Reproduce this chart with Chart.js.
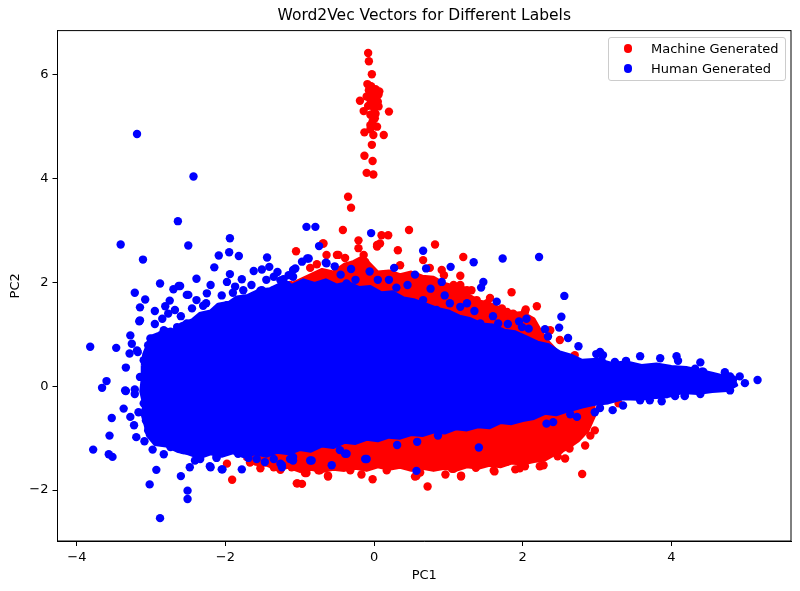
<!DOCTYPE html>
<html>
<head>
<meta charset="utf-8">
<script src="https://cdn.jsdelivr.net/npm/chart.js@4.4.1/dist/chart.umd.min.js"></script>
<style>
  body { margin: 0; background: #fff; }
  #wrap { position: relative; width: 800px; height: 591px; }
  #legend {
    position: absolute; box-sizing: border-box; width: 178px;
    border: 1px solid #cccccc; border-radius: 3px; background: rgba(255,255,255,0.8);
    font: 13px 'DejaVu Sans', sans-serif; color: #000; padding: 1px 0;
  }
  #legend .row { display: flex; align-items: center; height: 20px; white-space: nowrap; }
  #legend .dot { width: 8.4px; height: 8.4px; border-radius: 50%; margin: 0 18.8px 0 14.8px; }
</style>
</head>
<body>
<div id="wrap">
  <canvas id="myChart"></canvas>
  <div id="legend"></div>
</div>
<script>
const xTicks = [-4, -2, 0, 2, 4];
const yTicks = [-2, 0, 2, 4, 6];
const seriesLabels = ['Machine Generated', 'Human Generated'];

// outline of the solid, overplotted part of each cloud
const machineCore = [[-1.26,1.70],[-1.15,1.95],[-1.00,2.05],[-0.85,2.15],[-0.70,2.25],[-0.55,2.20],[-0.40,2.35],[-0.28,2.40],[-0.15,2.50],[-0.05,2.35],[0.05,2.20],[0.20,2.22],[0.35,2.15],[0.50,2.20],[0.65,2.12],[0.80,2.10],[0.95,1.98],[1.10,1.92],[1.25,1.78],[1.40,1.65],[1.55,1.60],[1.70,1.50],[1.85,1.40],[2.00,1.42],[2.15,1.30],[2.25,1.05],[2.35,0.85],[2.50,0.62],[2.70,0.30],[2.85,0.00],[2.95,-0.25],[2.97,-0.56],[2.88,-0.85],[2.75,-1.05],[2.60,-1.20],[2.45,-1.30],[2.30,-1.42],[2.15,-1.45],[2.00,-1.50],[1.85,-1.48],[1.70,-1.55],[1.55,-1.52],[1.40,-1.58],[1.25,-1.55],[1.10,-1.62],[0.95,-1.58],[0.80,-1.62],[0.65,-1.58],[0.50,-1.62],[0.35,-1.56],[0.20,-1.60],[0.05,-1.55],[-0.10,-1.62],[-0.25,-1.58],[-0.40,-1.62],[-0.55,-1.60],[-0.70,-1.64],[-0.85,-1.60],[-1.00,-1.64],[-1.15,-1.56],[-1.30,-1.60],[-1.45,-1.52],[-1.60,-1.50],[-1.74,-1.40],[-1.67,-0.66],[-1.40,0.69]];
const humanCore = [[-3.12,0.40],[-3.10,0.62],[-3.05,0.80],[-3.02,0.95],[-2.90,1.02],[-2.80,1.10],[-2.70,1.08],[-2.60,1.20],[-2.45,1.28],[-2.35,1.40],[-2.20,1.45],[-2.10,1.58],[-1.95,1.62],[-1.85,1.72],[-1.70,1.75],[-1.55,1.85],[-1.40,1.88],[-1.25,1.98],[-1.10,1.95],[-0.95,2.05],[-0.80,1.98],[-0.65,2.05],[-0.50,1.95],[-0.35,2.00],[-0.20,1.90],[-0.05,1.92],[0.10,1.80],[0.25,1.82],[0.40,1.70],[0.55,1.66],[0.70,1.58],[0.85,1.50],[1.00,1.45],[1.15,1.35],[1.30,1.30],[1.45,1.20],[1.60,1.18],[1.75,1.08],[1.90,1.05],[2.05,0.95],[2.20,0.85],[2.35,0.80],[2.50,0.66],[2.65,0.60],[2.80,0.50],[3.00,0.52],[3.20,0.44],[3.40,0.47],[3.60,0.40],[3.80,0.43],[4.00,0.38],[4.20,0.36],[4.40,0.30],[4.55,0.25],[4.70,0.20],[4.85,0.10],[4.88,0.02],[4.75,-0.08],[4.55,-0.10],[4.35,-0.14],[4.15,-0.12],[3.95,-0.20],[3.75,-0.22],[3.55,-0.25],[3.35,-0.24],[3.15,-0.32],[2.95,-0.35],[2.80,-0.40],[2.60,-0.48],[2.45,-0.55],[2.30,-0.52],[2.15,-0.62],[2.00,-0.66],[1.85,-0.72],[1.70,-0.70],[1.55,-0.80],[1.40,-0.78],[1.25,-0.84],[1.10,-0.82],[0.95,-0.90],[0.80,-0.88],[0.65,-0.95],[0.50,-0.93],[0.35,-1.00],[0.20,-0.98],[0.05,-1.05],[-0.10,-1.02],[-0.25,-1.10],[-0.40,-1.08],[-0.55,-1.18],[-0.70,-1.15],[-0.85,-1.25],[-1.00,-1.22],[-1.15,-1.30],[-1.30,-1.27],[-1.45,-1.35],[-1.60,-1.30],[-1.75,-1.36],[-1.90,-1.28],[-2.05,-1.35],[-2.20,-1.30],[-2.35,-1.38],[-2.50,-1.30],[-2.65,-1.25],[-2.80,-1.15],[-2.95,-1.12],[-3.05,-0.95],[-3.08,-0.75],[-3.12,-0.55],[-3.10,-0.35],[-3.14,-0.10],[-3.12,0.15]];

// single points
const machinePoints = [
  [-0.08,6.42],[-0.07,6.26],[-0.03,6.01],[-0.09,5.82],[-0.01,5.65],[0.07,5.68],[-0.19,5.50],[-0.05,5.52],[0.01,5.45],[0.06,5.39],[-0.14,5.30],[0.20,5.29],[-0.05,5.23],[0.01,5.16],[-0.05,5.03],[-0.13,4.89],[-0.01,4.84],[0.13,4.84],[-0.03,4.65],[-0.13,4.44],[-0.02,4.34],[-0.10,4.11],[-0.01,4.08],[-0.35,3.65],[-0.31,3.44],
  [-0.03,5.60],[0.03,5.55],[-0.08,5.40],[0.00,5.35],[0.05,5.48],[-0.10,5.58],[0.02,5.25],[-0.02,5.10],[0.06,5.62],[-0.05,4.95],[0.04,5.00],[-0.07,5.70],[-0.04,5.78],[0.02,5.72],
  [-0.42,3.01],[0.10,2.91],[0.19,2.91],[-0.21,2.81],[0.04,2.72],[0.32,2.62],[-1.05,2.60],[-0.69,2.75],[-0.48,2.53],[-0.64,2.53],[0.47,3.01],[0.82,2.73],[1.20,2.49],[1.16,2.13],[1.85,1.81],[0.66,2.43],[1.20,1.85],[1.31,1.85],[0.08,2.75],[0.91,2.24],[0.94,2.14],[0.31,2.08],[0.57,2.11],[0.71,2.04],[1.07,1.95],[1.38,1.66],[1.52,1.60],[1.70,1.47],[1.83,1.34],[1.25,1.85],[-0.14,2.53],[-0.12,2.40],[-0.21,2.66],[-0.77,2.35],[0.04,2.69],[-0.68,2.75],[-0.50,2.53],
  [2.19,1.54],[2.04,1.48],[1.87,1.40],[1.72,1.50],[1.79,1.43],[2.12,1.18],[2.17,0.98],[2.50,0.89],[2.28,0.79],
  [-1.98,-1.49],[-1.91,-1.80],[-1.04,-1.87],[-0.97,-1.88],[-1.29,-1.56],[-1.13,-1.52],[-0.93,-1.67],[-0.73,-1.62],[-0.62,-1.72],[-0.17,-1.70],[-0.02,-1.79],[0.19,-1.52],[-1.35,-1.56],[-1.26,-1.61],[-1.11,-1.56],[-1.03,-1.87],[-0.91,-1.67],[-0.75,-1.62],[-0.62,-1.74],[0.17,-1.62],[0.55,-1.74],[0.72,-1.93],[1.17,-1.74],[1.37,-1.57],[1.61,-1.62],[1.07,-1.59],[-0.73,-1.49],[-0.46,-1.49],[1.17,-1.72],[1.62,-1.64],[1.90,-1.60],[2.03,-1.54],[2.28,-1.52],[2.80,-1.69],[2.63,-1.20],[2.47,-1.35],[2.91,-0.95],[0.57,-1.73],[1.05,-1.59],[1.79,-1.45],[2.50,-1.23],[3.29,-0.33],
  [-1.67,-1.47],[-1.53,-1.58],[-0.32,-1.62],[0.62,-1.66],[0.96,-1.70],[1.96,-1.58],[2.23,-1.54],[2.57,-1.39],[2.84,-1.14],[2.97,-0.85],[3.04,-0.27],[2.97,0.21],
  [-1.13,1.95],[-0.86,2.28],[-0.39,2.47],[0.35,2.33],[0.75,2.28],[1.16,1.95],[1.56,1.70],[2.03,1.43],[2.37,1.08],[2.70,0.60]
];
const humanPoints = [
  [-3.19,4.86],[-2.43,4.04],[-2.64,3.18],[-3.41,2.73],[-2.50,2.71],[-3.11,2.44],[-1.94,2.85],[-1.95,2.58],[-1.82,2.51],[-2.09,2.52],[-2.15,2.29],[-0.91,3.07],[-0.79,3.07],[-0.74,2.70],[-0.04,2.95],[-2.88,1.98],[-2.70,1.87],[-2.63,1.93],[-2.39,2.07],[-1.94,2.16],[-1.44,2.48],[-3.22,1.80],[-2.50,1.76],[-2.25,1.79],[-1.62,2.22],[-1.41,2.30],[-0.64,2.37],
  [0.66,2.61],[1.34,2.39],[1.73,2.46],[2.22,2.49],[1.03,2.30],[2.56,1.74],[1.47,2.01],[1.44,1.90],[0.70,2.27],[1.65,1.63],[0.27,2.28],[-0.06,2.21],[-0.31,2.26],[-0.65,2.38],[-0.90,2.46],[-1.09,2.24],[-1.22,2.06],[0.42,1.60],[0.76,1.88],[1.16,1.53],[0.91,2.01],
  [-0.82,1.72],[-0.55,1.85],[-0.37,1.98],[-0.19,1.85],[0.08,1.72],[0.66,1.66],[0.84,1.47],[1.02,1.60],[1.16,1.27],[1.43,1.21],[1.65,1.08],[1.87,0.95],
  [0.20,2.05],[0.45,1.95],[0.55,2.15],[0.95,1.75],[1.25,1.60],[1.35,1.45],[1.60,1.35],[1.95,1.25],[2.05,1.30],[0.30,1.90],[-0.45,2.15],[-0.25,2.05],[0.05,2.05],[1.80,1.20],[2.30,1.10],
  [-1.51,2.25],[-1.78,2.06],[-1.98,2.01],[-1.87,1.92],[-1.76,1.85],[-2.61,1.93],[-1.51,1.85],[-1.35,2.11],[-1.26,2.04],[-1.15,2.14],[-1.06,2.27],[-0.97,2.40],[-0.88,2.46],[-0.53,2.31],
  [-2.95,1.20],[-2.85,1.30],[-2.60,1.35],[-2.45,1.50],[-2.30,1.55],[-2.05,1.75],[-1.90,1.80],[-1.65,1.95],[-1.45,2.05],[-1.30,2.20],[-2.20,1.95],[-2.75,1.65],[-2.95,1.45],
  [-3.08,1.67],[-3.15,1.52],[-3.16,1.25],[-2.81,1.54],[-2.77,1.40],[-2.68,1.47],[-2.52,1.76],[-2.39,1.66],[-2.26,1.60],[-1.53,1.84],[-3.82,0.76],[-3.47,0.74],[-3.28,0.98],[-3.26,0.82],[-3.19,0.69],[-3.29,0.63],[-3.34,0.36],[-3.60,0.10],[-3.66,-0.03],[-3.34,-0.09],[-3.22,-0.15],[-2.74,1.05],[-3.01,0.92],[-3.35,-0.08],[-3.22,-0.06],[-3.37,-0.43],[-3.53,-0.61],[-3.28,-0.59],[-3.23,-0.75],[-3.56,-0.95],[-3.20,-0.98],[-3.09,-1.06],[-3.78,-1.22],[-3.57,-1.31],[-3.52,-1.36],[-2.98,-1.22],[-2.83,-1.31],[-2.93,-1.61],[-3.02,-1.89],[-2.60,-1.73],[-2.51,-2.01],[-2.51,-2.17],[-2.88,-2.54],[-2.48,-1.56],[-2.41,-1.43],[-2.21,-1.54],[-2.05,-1.60],[-2.12,-1.36],[-1.78,-1.60],[-1.47,-1.46],[-1.24,-1.52],[-1.09,-1.43],[-0.86,-1.43],[-0.57,-1.52],[-0.12,-1.40],[-0.37,-1.30],[-3.18,0.66],[-3.15,1.27],[-3.17,-0.50],
  [-1.24,-1.56],[-0.84,-1.43],[-0.10,-1.40],[0.31,-1.13],[0.58,-1.07],[0.57,-1.63],[0.86,-0.95],[1.41,-1.18],[-0.46,-1.23],[-0.39,-1.30],[-1.09,-1.36],[-2.34,-1.40],[-2.20,-1.56],[-2.04,-1.60],[-2.12,-1.38],[-1.98,-1.23],[-1.83,-1.30],[-1.69,-1.38],[-1.58,-1.40],[-1.35,-1.40],[-1.26,-1.49],[-1.13,-1.40],
  [-3.10,-0.33],[-3.08,-0.50],[-3.07,-0.66],[-3.04,-0.85],[-2.88,-0.98],[-2.70,-0.91],[-2.74,-1.17],[-2.57,-1.23],[-2.43,-1.17],[-3.04,0.79],[-3.10,0.50],[-3.15,0.18],[-3.08,-0.01],
  [-2.83,1.08],[-2.65,1.14],[-2.52,1.21],[-2.39,1.27],[-2.25,1.34],[-2.12,1.47],[-1.98,1.56],[-1.85,1.60],[-1.71,1.66],[-1.53,1.76],[-1.35,1.85],[-1.17,1.95],[-1.09,2.11],
  [2.52,1.34],[2.49,1.13],[2.34,0.96],[2.61,0.93],[2.75,0.77],[1.67,1.21],[1.99,1.14],[2.08,1.11],[2.99,0.62],[3.08,0.60],[3.06,0.50],[3.24,0.47],[3.39,0.49],[4.07,0.58],[4.09,0.49],[4.32,0.34],[4.43,0.28],[3.58,-0.27],[3.87,-0.29],[4.18,-0.19],[4.48,-0.01],[4.61,0.14],[3.21,-0.46],[3.35,-0.37],[2.73,-0.59],[2.97,-0.50],[2.41,-0.69],[2.32,-0.72],[5.16,0.12],[4.83,0.13],[4.79,0.19],[4.68,0.15],[4.56,0.13],[4.31,0.31],[4.41,0.28],[4.18,-0.17],[4.05,-0.19],
  [3.04,0.66],[3.58,0.58],[3.85,0.54],[4.39,0.46],[4.72,0.27],[4.92,0.19],[4.99,0.06],[4.79,-0.08],[4.39,-0.15],[3.71,-0.27],[3.04,-0.42],[2.64,-0.54]
];

const RED = '#ff0000';
const BLUE = '#0000ff';
const toXY = arr => arr.map(p => ({x: p[0], y: p[1]}));
const closed = arr => toXY(arr.concat([arr[0]]));
const minusFmt = v => v < 0 ? '\u2212' + Math.abs(v) : String(v);

Chart.defaults.font.family = "'DejaVu Sans', sans-serif";
Chart.defaults.font.size = 13;
Chart.defaults.color = '#000';

function coreSet(pts, color, order) {
  return {
    data: closed(pts), showLine: true, fill: 'shape', order: order,
    backgroundColor: color, borderColor: color, borderWidth: 3,
    borderJoinStyle: 'round', pointRadius: 0, tension: 0
  };
}
function pointSet(label, pts, color, order) {
  return {
    label: label, data: toXY(pts), order: order,
    backgroundColor: color, borderWidth: 0, pointRadius: 4.2
  };
}

const frame = {
  id: 'frame',
  afterLayout(chart) {
    // centre the title on the plot area, the way matplotlib does
    chart.titleBlock.left = chart.chartArea.left;
    chart.titleBlock.right = chart.chartArea.right;
  },
  afterDraw(chart) {
    const {ctx, chartArea: a} = chart;
    ctx.save();
    ctx.strokeStyle = '#000';
    ctx.lineWidth = 1;
    ctx.strokeRect(a.left, a.top, a.right - a.left, a.bottom - a.top);
    ctx.restore();
  }
};

let ctx = document.getElementById('myChart').getContext('2d');
let myChart = new Chart(ctx, {
  type: 'scatter',
  data: {
    datasets: [
      pointSet(seriesLabels[1], humanPoints, BLUE, 1),
      coreSet(humanCore, BLUE, 2),
      pointSet(seriesLabels[0], machinePoints, RED, 3),
      coreSet(machineCore, RED, 4)
    ]
  },
  options: {
    responsive: true,
    maintainAspectRatio: false,
    animation: false,
    events: [],
    layout: { padding: { right: 9 } },
    plugins: {
      legend: { display: false },
      tooltip: { enabled: false },
      title: {
        display: true,
        text: 'Word2Vec Vectors for Different Labels',
        font: { size: 15.5, weight: 'normal' },
        color: '#000',
        padding: { top: 7, bottom: 5 }
      }
    },
    scales: {
      x: {
        type: 'linear', min: -4.26, max: 5.61,
        afterBuildTicks: s => { s.ticks = xTicks.map(v => ({value: v})); },
        afterFit: s => { s.height = 50; },
        grid: { display: true, drawOnChartArea: false, drawTicks: true, tickLength: 5, color: '#000' },
        border: { display: true, color: '#000', width: 1 },
        ticks: { padding: 4, color: '#000', callback: minusFmt, maxRotation: 0 },
        title: { display: true, text: 'PC1', color: '#000', padding: { top: 0, bottom: 8 } }
      },
      y: {
        type: 'linear', min: -2.98, max: 6.85,
        afterBuildTicks: s => { s.ticks = yTicks.map(v => ({value: v})); },
        afterFit: s => { s.width = 57.5; },
        grid: { display: true, drawOnChartArea: false, drawTicks: true, tickLength: 5, color: '#000' },
        border: { display: true, color: '#000', width: 1 },
        ticks: { padding: 4, color: '#000', callback: minusFmt },
        title: { display: true, text: 'PC2', color: '#000', padding: { top: 8, bottom: 0 } }
      }
    }
  },
  plugins: [frame]
});

// legend box inside the plot, top right
const legend = document.getElementById('legend');
[[seriesLabels[0], RED], [seriesLabels[1], BLUE]].forEach(([label, color]) => {
  const row = document.createElement('div');
  row.className = 'row';
  row.innerHTML = '<span class="dot" style="background:' + color + '"></span><span>' + label + '</span>';
  legend.appendChild(row);
});
const area = myChart.chartArea;
legend.style.left = (area.right - 5 - 178) + 'px';
legend.style.top = (area.top + 6) + 'px';
</script>
</body>
</html>
